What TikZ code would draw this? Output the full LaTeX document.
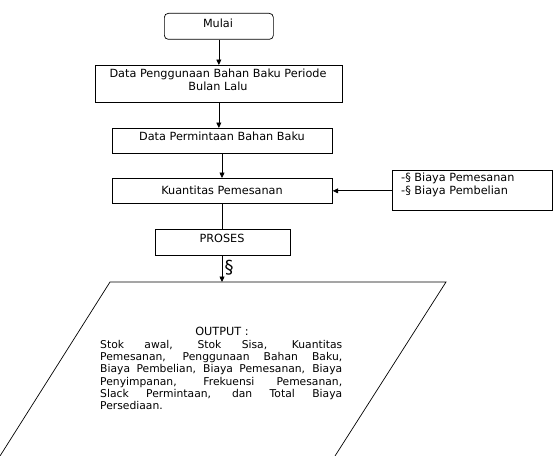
\documentclass[tikz,border=0pt]{standalone}
\usepackage{fontspec}
\setmainfont{DejaVu Sans}
\usetikzlibrary{arrows.meta}
\newcommand{\jline}[1]{\makebox[242bp][s]{#1}}
\begin{document}
\begin{tikzpicture}[x=1bp,y=-1bp,
  every node/.style={font=\fontsize{11.3}{13}\selectfont, inner sep=0pt},
  box/.style={draw, line width=0.7pt, minimum height=25bp, anchor=north west},
  arr/.style={draw, line width=0.7pt, -{Triangle[length=5.5pt,width=5pt]}}]
\useasboundingbox (0,0) rectangle (557,456);
% boxes
\node[box, rounded corners=4pt, minimum width=109bp, minimum height=26bp] (mulai) at (164,13) {};
\node at (218,23) {Mulai};
\node[box, minimum width=247bp, minimum height=37bp] (guna) at (95,65) {};
\node[align=center, font=\fontsize{11.3}{13}\selectfont] at (218,79.5) {Data Penggunaan Bahan Baku Periode\\Bulan Lalu};
\node[box, minimum width=220bp] (minta) at (112,128) {};
\node at (222,136) {Data Permintaan Bahan Baku};
\node[box, minimum width=220bp] (kuant) at (112,178) {};
\node at (222,190.5) {Kuantitas Pemesanan};
\node[box, minimum width=160bp, minimum height=40bp] (biaya) at (392,170) {};
\node[anchor=west, align=left, font=\fontsize{11.3}{13.5}\selectfont] at (401,185) {-§ Biaya Pemesanan\\-§ Biaya Pembelian};
\node[box, minimum width=135bp, minimum height=26bp] (proses) at (155,229) {};
\node at (222,238) {PROSES};
% output parallelogram
\coordinate (otl) at (110,282);
\coordinate (otr) at (446,282);
\coordinate (obl) at (0,456);
\coordinate (obr) at (335,456);
\draw[line width=0.7pt] (obl) -- (otl) -- (otr) -- (obr);
\node (outt) at (222,331) {OUTPUT :};
\node[anchor=north west, align=left, font=\fontsize{10.8}{12.3}\selectfont] (outp) at (100,340)
 {\jline{Stok awal, Stok Sisa, Kuantitas}\\
  \jline{Pemesanan, Penggunaan Bahan Baku,}\\
  \jline{Biaya Pembelian, Biaya Pemesanan, Biaya}\\
  \jline{Penyimpanan, Frekuensi Pemesanan,}\\
  \jline{Slack Permintaan, dan Total Biaya}\\
  Persediaan.};
% connectors
\draw[arr] (mulai.south) -- (guna.north -| mulai.south);
\draw[arr] (guna.south -| mulai.south) -- (minta.north -| mulai.south);
\coordinate (cx) at (222,0);
\draw[arr] (minta.south -| cx) -- (kuant.north -| cx);
\draw[line width=0.7pt] (kuant.south -| cx) -- (proses.north -| cx);
\draw[arr] (biaya.west |- kuant.east) -- (kuant.east);
\draw[arr] (proses.south -| cx) -- (otl -| cx);
\node[font=\fontsize{18}{18}\selectfont] (sym) at (229,268) {§};
\end{tikzpicture}
\end{document}
